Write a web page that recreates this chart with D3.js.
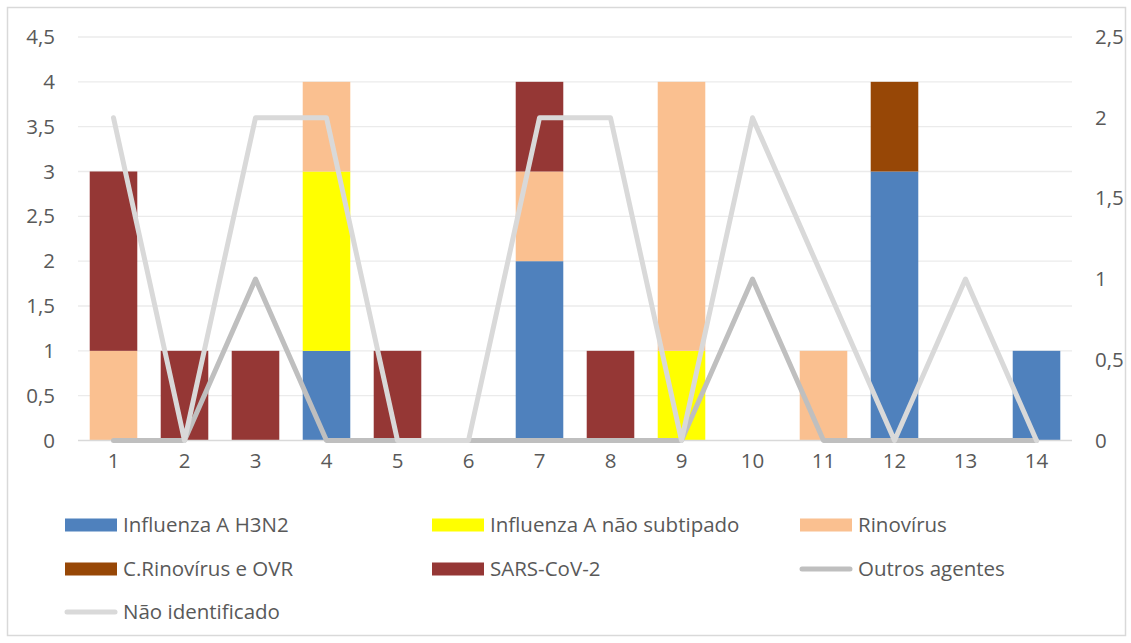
<!DOCTYPE html>
<html><head><meta charset="utf-8">
<script src="https://cdn.jsdelivr.net/npm/d3@7"></script>
<style>body{margin:0;background:#fff;} svg{display:block;font-family:"Open Sans",sans-serif;}</style>
</head><body>
<svg id="c" width="1131" height="643"></svg>
<script>
const categories = ["1","2","3","4","5","6","7","8","9","10","11","12","13","14"];
const h3n2       = [0,0,0,1,0,0,2,0,0,0,0,3,0,1];
const naoSubtip  = [0,0,0,2,0,0,0,0,1,0,0,0,0,0];
const rinovirus  = [1,0,0,1,0,0,1,0,3,0,1,0,0,0];
const cRinoOVR   = [0,0,0,0,0,0,0,0,0,0,0,1,0,0];
const sarsCov2   = [2,1,1,0,1,0,1,1,0,0,0,0,0,0];
const outros     = [0,0,1,0,0,0,0,0,0,1,0,0,0,0];
const naoIdent   = [2,0,2,2,0,0,2,2,0,2,1,0,1,0];
const leftTicks  = [0,0.5,1,1.5,2,2.5,3,3.5,4,4.5];
const rightTicks = [0,0.5,1,1.5,2,2.5];

const barSeries = [
  {name:"Influenza A H3N2", values:h3n2, color:"#4f81bd"},
  {name:"Influenza A não subtipado", values:naoSubtip, color:"#ffff00"},
  {name:"Rinovírus", values:rinovirus, color:"#fac090"},
  {name:"C.Rinovírus e OVR", values:cRinoOVR, color:"#974706"},
  {name:"SARS-CoV-2", values:sarsCov2, color:"#953735"}
];
const lineSeries = [
  {name:"Outros agentes", values:outros, color:"#bfbfbf"},
  {name:"Não identificado", values:naoIdent, color:"#d9d9d9"}
];

const svg = d3.select("#c");
const fmt = d => String(d).replace(".", ",");
const TXT = "#595959", FS = 20.5, LFS = 20.5;
svg.append("rect").attr("x",7.5).attr("y",7.5).attr("width",1118).attr("height",628)
  .attr("fill","#fff").attr("stroke","#d9d9d9").attr("stroke-width",1.5);

const L=78, R=1072, T=37, B=440.5;
const x = d3.scaleBand().domain(categories).range([L,R]).paddingInner(0.33).paddingOuter(0.165);
const xc = d3.scaleBand().domain(categories).range([L,R]);
const yL = d3.scaleLinear().domain([0,4.5]).range([B,T]);
const yR = d3.scaleLinear().domain([0,2.5]).range([B,T]);

svg.append("g").selectAll("line").data(leftTicks.slice(1)).join("line")
  .attr("x1",L).attr("x2",R).attr("y1",d=>yL(d)).attr("y2",d=>yL(d))
  .attr("stroke","#ebebeb").attr("stroke-width",1.3);

const gl = svg.append("g").attr("transform",`translate(${L},0)`)
  .call(d3.axisLeft(yL).tickValues(leftTicks).tickFormat(fmt).tickSize(0).tickPadding(23));
gl.select(".domain").remove();
gl.attr("font-size",FS).attr("font-family","Open Sans");
gl.selectAll("text").attr("fill",TXT);

const gr = svg.append("g").attr("transform",`translate(${R},0)`)
  .call(d3.axisRight(yR).tickValues(rightTicks).tickFormat(fmt).tickSize(0).tickPadding(23));
gr.select(".domain").remove();
gr.attr("font-size",FS).attr("font-family","Open Sans");
gr.selectAll("text").attr("fill",TXT);

const stackData = categories.map((c,i)=>{const o={cat:c}; barSeries.forEach(s=>o[s.name]=s.values[i]); return o;});
const stack = d3.stack().keys(barSeries.map(s=>s.name))(stackData);
svg.append("g").selectAll("g").data(stack).join("g")
  .attr("fill",(d,i)=>barSeries[i].color)
  .selectAll("rect").data(d=>d.filter(p=>p[1]-p[0]>0)).join("rect")
  .attr("x",d=>x(d.data.cat)).attr("width",x.bandwidth())
  .attr("y",d=>yL(d[1])).attr("height",d=>yL(d[0])-yL(d[1]));

svg.append("line").attr("x1",L).attr("x2",R).attr("y1",B).attr("y2",B)
  .attr("stroke","#d9d9d9").attr("stroke-width",1.5);
const gx = svg.append("g").attr("transform",`translate(0,${B})`)
  .call(d3.axisBottom(xc).tickSize(0).tickPadding(13));
gx.select(".domain").remove();
gx.attr("font-size",FS).attr("font-family","Open Sans");
gx.selectAll("text").attr("fill",TXT);

const line = d3.line().x((d,i)=>xc(categories[i])+xc.bandwidth()/2).y(d=>yR(d));
lineSeries.forEach(s=>{
  svg.append("path").datum(s.values).attr("d",line).attr("fill","none")
    .attr("stroke",s.color).attr("stroke-width",5).attr("stroke-linejoin","round").attr("stroke-linecap","round");
});

const legendItems = [
  {...barSeries[0], type:"bar", x:65, y:525},
  {...barSeries[1], type:"bar", x:432, y:525},
  {...barSeries[2], type:"bar", x:800, y:525},
  {...barSeries[3], type:"bar", x:65, y:569},
  {...barSeries[4], type:"bar", x:432, y:569},
  {...lineSeries[0], type:"line", x:800, y:569},
  {...lineSeries[1], type:"line", x:65, y:612}
];
const lg = svg.append("g");
legendItems.forEach(it=>{
  if(it.type==="bar"){
    lg.append("rect").attr("x",it.x).attr("y",it.y-6.5).attr("width",52).attr("height",13).attr("fill",it.color);
  } else {
    lg.append("line").attr("x1",it.x+2).attr("x2",it.x+50).attr("y1",it.y).attr("y2",it.y)
      .attr("stroke",it.color).attr("stroke-width",5).attr("stroke-linecap","round");
  }
  lg.append("text").attr("x",it.x+58).attr("y",it.y).attr("dy","0.35em")
    .attr("font-size",LFS).attr("fill",TXT).text(it.name);
});
</script>
</body></html>
